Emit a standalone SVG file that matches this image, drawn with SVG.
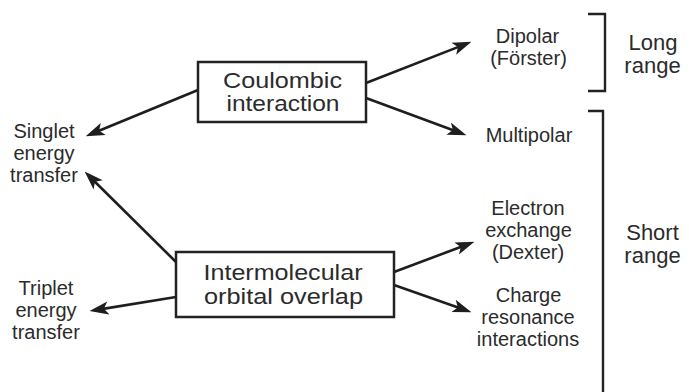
<svg xmlns="http://www.w3.org/2000/svg" width="689" height="392" viewBox="0 0 689 392">
<style>
  .box{fill:#fff;stroke:#222;stroke-width:2.5}
  .t{font-family:"Liberation Sans",Arial,Helvetica,sans-serif;fill:#2b2b2b;text-anchor:middle}
  .big{font-size:22px}
  .lab{font-size:20px}
  .rng{font-size:22px}
  .arr{stroke:#1e1e1e;stroke-width:2.6;fill:none;marker-end:url(#ah)}
  .br{stroke:#222;stroke-width:2.4;fill:none}
</style>
<defs>
  <marker id="ah" markerUnits="userSpaceOnUse" markerWidth="19" markerHeight="14" refX="8.5" refY="6.5" orient="auto" viewBox="0 0 19 13">
    <path d="M0,0 L19,6.5 L0,13 L4.5,6.5 z" fill="#1e1e1e"/>
  </marker>
</defs>
<rect width="689" height="392" fill="#fff"/>

<g id="connectors">
  <line class="arr" x1="198" y1="90" x2="95.4" y2="132.2"/>
  <line class="arr" x1="176" y1="262" x2="92.1" y2="179"/>
  <line class="arr" x1="176" y1="297" x2="99.9" y2="309.4"/>
  <line class="arr" x1="366" y1="83" x2="461.7" y2="45.6"/>
  <line class="arr" x1="366" y1="98" x2="456.6" y2="131.5"/>
  <line class="arr" x1="394" y1="272" x2="464.6" y2="245.5"/>
  <line class="arr" x1="394" y1="285" x2="461.6" y2="308.7"/>
</g>

<g id="coulombic">
  <rect class="box" x="198" y="62" width="168" height="60"/>
  <text class="t big" x="282.5" y="88" textLength="119" lengthAdjust="spacingAndGlyphs">Coulombic</text>
  <text class="t big" x="283" y="111" textLength="113" lengthAdjust="spacingAndGlyphs">interaction</text>
</g>

<g id="intermolecular">
  <rect class="box" x="176" y="252" width="218" height="65"/>
  <text class="t big" x="283" y="280" textLength="159" lengthAdjust="spacingAndGlyphs">Intermolecular</text>
  <text class="t big" x="283.5" y="304" textLength="159" lengthAdjust="spacingAndGlyphs">orbital overlap</text>
</g>

<g id="singlet">
  <text class="t lab" x="44" y="138">Singlet</text>
  <text class="t lab" x="44" y="160">energy</text>
  <text class="t lab" x="44" y="182">transfer</text>
</g>

<g id="triplet">
  <text class="t lab" x="46" y="295">Triplet</text>
  <text class="t lab" x="46" y="317">energy</text>
  <text class="t lab" x="46" y="339">transfer</text>
</g>

<g id="dipolar">
  <text class="t lab" x="527.5" y="43">Dipolar</text>
  <text class="t lab" x="528.5" y="65">(Förster)</text>
</g>

<g id="multipolar">
  <text class="t lab" x="529" y="142">Multipolar</text>
</g>

<g id="electron">
  <text class="t lab" x="528" y="215">Electron</text>
  <text class="t lab" x="528.5" y="237">exchange</text>
  <text class="t lab" x="528" y="259">(Dexter)</text>
</g>

<g id="charge">
  <text class="t lab" x="528.5" y="302">Charge</text>
  <text class="t lab" x="528" y="324">resonance</text>
  <text class="t lab" x="528" y="346">interactions</text>
</g>

<g id="long-range">
  <path class="br" d="M588,14 H605 V91 H588"/>
  <text class="t rng" x="653" y="50">Long</text>
  <text class="t rng" x="652.5" y="73">range</text>
</g>

<g id="short-range">
  <path class="br" d="M588,111 H603 V395"/>
  <text class="t rng" x="652.5" y="240">Short</text>
  <text class="t rng" x="652.5" y="263">range</text>
</g>
</svg>
